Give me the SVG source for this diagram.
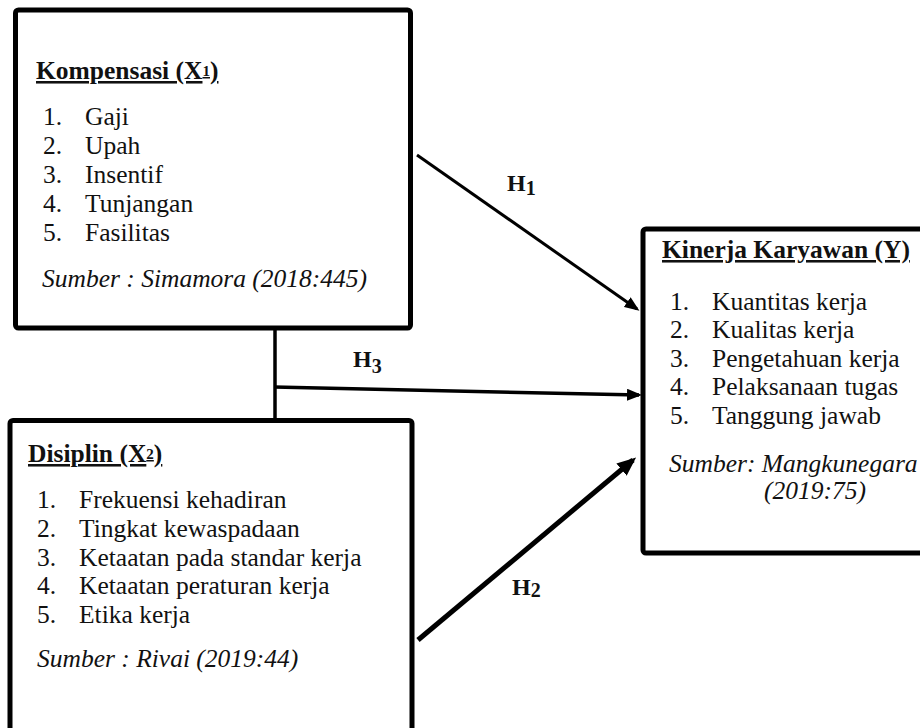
<svg xmlns="http://www.w3.org/2000/svg" width="920" height="728" viewBox="0 0 920 728">
<style>
.box{fill:#fff;stroke:#000;stroke-width:5}
.t{font-family:"Liberation Serif","Times New Roman",serif;font-size:25.5px;fill:#111}
.h{font-weight:bold;text-decoration:underline}
.i{font-style:italic}
.lbl{font-family:"Liberation Serif","Times New Roman",serif;font-weight:bold;fill:#111}
.c{stroke:#000;fill:none}
</style>
<defs>
<marker id="ah" markerUnits="userSpaceOnUse" markerWidth="16" markerHeight="12" refX="12" refY="6" orient="auto">
<path d="M0,0 L15,6 L0,12 z" fill="#000"/>
</marker>
<marker id="ah2" markerUnits="userSpaceOnUse" markerWidth="20" markerHeight="16" refX="15" refY="8" orient="auto">
<path d="M0,0 L19,8 L0,16 z" fill="#000"/>
</marker>
</defs>
<rect width="920" height="728" fill="#fff"/>

<g id="connectors">
<line class="c" x1="275" y1="330" x2="275" y2="419" stroke-width="3.5"/>
<line class="c" x1="274" y1="387" x2="639" y2="395" stroke-width="3.5" marker-end="url(#ah)"/>
<line class="c" x1="417" y1="155" x2="637" y2="309" stroke-width="3" marker-end="url(#ah)"/>
<line class="c" x1="418" y1="640" x2="633" y2="460" stroke-width="5" marker-end="url(#ah2)"/>
<text class="lbl" x="507" y="191" font-size="24">H<tspan font-size="20" dy="4">1</tspan></text>
<text class="lbl" x="353" y="367" font-size="24">H<tspan font-size="20" dy="6">3</tspan></text>
<text class="lbl" x="512" y="595" font-size="24">H<tspan font-size="20" dy="1.5">2</tspan></text>
</g>

<g id="kompensasi">
<rect class="box" x="15.5" y="10" width="395" height="318" rx="3"/>
<text class="t h" x="36" y="79">Kompensasi (X<tspan font-size="15" dy="-3">1</tspan><tspan dy="3">)</tspan></text>
<text class="t" x="43" y="125">1.</text><text class="t" x="85" y="125">Gaji</text>
<text class="t" x="43" y="154">2.</text><text class="t" x="85" y="154">Upah</text>
<text class="t" x="43" y="183">3.</text><text class="t" x="85" y="183">Insentif</text>
<text class="t" x="43" y="212">4.</text><text class="t" x="85" y="212">Tunjangan</text>
<text class="t" x="43" y="241">5.</text><text class="t" x="85" y="241">Fasilitas</text>
<text class="t i" x="42" y="287">Sumber : Simamora (2018:445)</text>
</g>

<g id="disiplin">
<rect class="box" x="10" y="420.5" width="402" height="330" rx="3"/>
<text class="t h" x="28" y="462">Disiplin (X<tspan font-size="15" dy="-3">2</tspan><tspan dy="3">)</tspan></text>
<text class="t" x="37" y="508">1.</text><text class="t" x="79" y="508">Frekuensi kehadiran</text>
<text class="t" x="37" y="537">2.</text><text class="t" x="79" y="537">Tingkat kewaspadaan</text>
<text class="t" x="37" y="565.5">3.</text><text class="t" x="79" y="565.5">Ketaatan pada standar kerja</text>
<text class="t" x="37" y="594">4.</text><text class="t" x="79" y="594">Ketaatan peraturan kerja</text>
<text class="t" x="37" y="623">5.</text><text class="t" x="79" y="623">Etika kerja</text>
<text class="t i" x="37" y="667">Sumber : Rivai (2019:44)</text>
</g>

<g id="kinerja">
<rect class="box" x="643" y="229" width="300" height="324" rx="3"/>
<text class="t h" x="662" y="258">Kinerja Karyawan (Y)</text>
<text class="t" x="670" y="309.5">1.</text><text class="t" x="712" y="309.5">Kuantitas kerja</text>
<text class="t" x="670" y="338">2.</text><text class="t" x="712" y="338">Kualitas kerja</text>
<text class="t" x="670" y="366.5">3.</text><text class="t" x="712" y="366.5">Pengetahuan kerja</text>
<text class="t" x="670" y="395">4.</text><text class="t" x="712" y="395">Pelaksanaan tugas</text>
<text class="t" x="670" y="423.5">5.</text><text class="t" x="712" y="423.5">Tanggung jawab</text>
<text class="t i" x="669" y="472">Sumber: Mangkunegara</text>
<text class="t i" x="764" y="499">(2019:75)</text>
</g>
</svg>
